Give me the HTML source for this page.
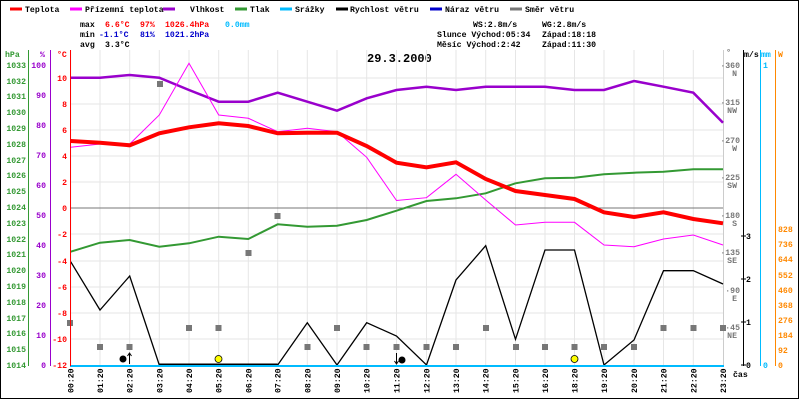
<!DOCTYPE html>
<html><head><meta charset="utf-8"><style>
html,body{margin:0;padding:0;background:#fff;}
svg{display:block;}
text{font-family:"Liberation Mono",monospace;font-size:8.2px;font-weight:bold;}
</style></head><body>
<svg width="800" height="400" viewBox="0 0 800 400" xmlns="http://www.w3.org/2000/svg">
<rect x="0.5" y="0.5" width="798" height="398" fill="#fff" stroke="#000"/>
<g stroke-width="3">
<line x1="10" y1="9" x2="22" y2="9" stroke="#f00"/>
<line x1="70" y1="9" x2="82" y2="9" stroke="#f0f"/>
<line x1="163" y1="9" x2="175" y2="9" stroke="#90c"/>
<line x1="235" y1="9" x2="247" y2="9" stroke="#393"/>
<line x1="280" y1="9" x2="292" y2="9" stroke="#0bf"/>
<line x1="336" y1="9" x2="348" y2="9" stroke="#000"/>
<line x1="430" y1="9" x2="442" y2="9" stroke="#00c"/>
<line x1="510" y1="9" x2="522" y2="9" stroke="#777"/>
</g>
<g fill="#000">
<text x="25" y="12">Teplota</text>
<text x="85" y="12">Přízemní teplota</text>
<text x="190" y="12">Vlhkost</text>
<text x="250" y="12">Tlak</text>
<text x="295" y="12">Srážky</text>
<text x="350" y="12">Rychlost větru</text>
<text x="445" y="12">Náraz větru</text>
<text x="525" y="12">Směr větru</text>
<text x="80" y="27">max</text>
<text x="80" y="37">min</text>
<text x="80" y="47">avg</text>
<text x="105" y="47">3.3°C</text>
<text x="473" y="27">WS:2.8m/s</text>
<text x="542" y="27">WG:2.8m/s</text>
<text x="437" y="37">Slunce Východ:05:34</text>
<text x="542" y="37">Západ:18:18</text>
<text x="437" y="47">Měsíc  Východ:2:42</text>
<text x="542" y="47">Západ:11:30</text>
</g>
<g fill="#f00"><text x="105" y="27">6.6°C</text><text x="140" y="27">97%</text><text x="165" y="27">1026.4hPa</text></g>
<text x="225" y="27" fill="#0bf">0.0mm</text>
<g fill="#00c"><text x="99" y="37">-1.1°C</text><text x="140" y="37">81%</text><text x="165" y="37">1021.2hPa</text></g>
<text x="367" y="62" style="font-size:12px;font-weight:bold">29.3.2000</text>
<g stroke="#e6e6e6" stroke-width="1">
<line x1="70.7" y1="50" x2="70.7" y2="365"/><line x1="100" y1="50" x2="100" y2="365"/><line x1="129.7" y1="50" x2="129.7" y2="365"/><line x1="159.3" y1="50" x2="159.3" y2="365"/><line x1="189" y1="50" x2="189" y2="365"/><line x1="218.7" y1="50" x2="218.7" y2="365"/><line x1="248.3" y1="50" x2="248.3" y2="365"/><line x1="277.7" y1="50" x2="277.7" y2="365"/><line x1="307.3" y1="50" x2="307.3" y2="365"/><line x1="337" y1="50" x2="337" y2="365"/><line x1="366.7" y1="50" x2="366.7" y2="365"/><line x1="396.5" y1="50" x2="396.5" y2="365"/><line x1="426.5" y1="50" x2="426.5" y2="365"/><line x1="456" y1="50" x2="456" y2="365"/><line x1="485.7" y1="50" x2="485.7" y2="365"/><line x1="515.5" y1="50" x2="515.5" y2="365"/><line x1="545" y1="50" x2="545" y2="365"/><line x1="574.5" y1="50" x2="574.5" y2="365"/><line x1="604" y1="50" x2="604" y2="365"/><line x1="634" y1="50" x2="634" y2="365"/><line x1="663.5" y1="50" x2="663.5" y2="365"/><line x1="693.3" y1="50" x2="693.3" y2="365"/>
<line x1="70" y1="78" x2="723" y2="78"/><line x1="70" y1="104" x2="723" y2="104"/><line x1="70" y1="130" x2="723" y2="130"/><line x1="70" y1="156" x2="723" y2="156"/><line x1="70" y1="182" x2="723" y2="182"/><line x1="70" y1="234" x2="723" y2="234"/><line x1="70" y1="261" x2="723" y2="261"/><line x1="70" y1="287" x2="723" y2="287"/><line x1="70" y1="313" x2="723" y2="313"/><line x1="70" y1="339" x2="723" y2="339"/>
</g>
<line x1="723.5" y1="50" x2="723.5" y2="365" stroke="#ccc"/>
<line x1="70" y1="208" x2="723" y2="208" stroke="#777"/>
<polyline fill="none" stroke="#393" stroke-width="2" points="70.7,251.7 100,242.7 129.7,240 159.3,246.7 189,243.3 218.7,236.7 248.3,239 277.7,224.3 307.3,226.7 337,225.7 366.7,220 396.5,210.7 426.5,201 456,198.3 485.7,193.3 515.5,183.3 545,178.3 574.5,177.7 604,174.3 634,172.7 663.5,171.7 693.3,169.3 723,169.3"/>
<polyline fill="none" stroke="#90c" stroke-width="2.5" points="70.7,77.7 100,77.7 129.7,75 159.3,77.7 189,90 218.7,101.7 248.3,101.7 277.7,92.7 307.3,101.7 337,110.7 366.7,98.3 396.5,90 426.5,86.7 456,90 485.7,86.7 515.5,86.7 545,86.7 574.5,90 604,90 634,81 663.5,86.7 693.3,92.7 723,122.7"/>
<polyline fill="none" stroke="#f0f" stroke-width="1" points="70.7,147.3 100,144 129.7,144 159.3,115 189,63.3 218.7,115 248.3,118.3 277.7,131.7 307.3,128.3 337,131.7 366.7,157.3 396.5,200.5 426.5,197.7 456,174.3 485.7,200 515.5,225 545,222.3 574.5,222.3 604,245 634,246.7 663.5,239 693.3,235 723,245"/>
<polyline fill="none" stroke="#f00" stroke-width="4" points="70.7,141 100,142.7 129.7,145.3 159.3,133.3 189,127.3 218.7,123.3 248.3,126 277.7,133.3 307.3,132.7 337,132.7 366.7,146 396.5,162.7 426.5,167.3 456,162.3 485.7,179 515.5,191 545,195 574.5,199 604,212.3 634,217 663.5,212.3 693.3,219 723,223.3"/>
<polyline fill="none" stroke="#000" stroke-width="1.3" points="70.7,261.7 100,310 129.7,276 159.3,365 189,365 218.7,365 248.3,365 277.7,365 307.3,322.7 337,365 366.7,322.7 396.5,336 426.5,365 456,280 485.7,245.7 515.5,339.3 545,250 574.5,250 604,365 634,340 663.5,270.7 693.3,270.7 723,284"/>
<line x1="159.3" y1="364.5" x2="277.7" y2="364.5" stroke="#000" stroke-width="2"/>
<line x1="70" y1="366" x2="724" y2="366" stroke="#0bf" stroke-width="2"/>
<g fill="#777">
<rect x="157" y="81" width="6" height="6"/><rect x="67" y="320" width="6" height="6"/><rect x="97" y="344" width="6" height="6"/><rect x="126.5" y="344" width="6" height="6"/><rect x="186" y="325" width="6" height="6"/><rect x="215.5" y="325" width="6" height="6"/><rect x="245.5" y="250" width="6" height="6"/><rect x="274.5" y="213" width="6" height="6"/><rect x="304.5" y="344" width="6" height="6"/><rect x="334" y="325" width="6" height="6"/><rect x="363.5" y="344" width="6" height="6"/><rect x="393.5" y="344" width="6" height="6"/><rect x="423.5" y="344" width="6" height="6"/><rect x="453" y="344" width="6" height="6"/><rect x="483" y="325" width="6" height="6"/><rect x="513" y="344" width="6" height="6"/><rect x="542" y="344" width="6" height="6"/><rect x="571.5" y="344" width="6" height="6"/><rect x="601" y="344" width="6" height="6"/><rect x="631" y="344" width="6" height="6"/><rect x="660.5" y="325" width="6" height="6"/><rect x="690.5" y="325" width="6" height="6"/><rect x="720" y="325" width="6" height="6"/>
</g>
<circle cx="123" cy="359" r="3.5" fill="#000"/>
<line x1="129.5" y1="364" x2="129.5" y2="353" stroke="#000"/><path d="M127.5,356 L129.5,353 L131.5,356" fill="none" stroke="#000"/>
<circle cx="218.5" cy="359" r="3.5" fill="#ff0" stroke="#000" stroke-width="0.8"/>
<circle cx="574.5" cy="359" r="3.5" fill="#ff0" stroke="#000" stroke-width="0.8"/>
<circle cx="402" cy="360" r="3.5" fill="#000"/>
<line x1="396.5" y1="353" x2="396.5" y2="364" stroke="#000"/><path d="M394.5,361 L396.5,364 L398.5,361" fill="none" stroke="#000"/>
<line x1="28.5" y1="50" x2="28.5" y2="366" stroke="#393"/>
<line x1="50.5" y1="50" x2="50.5" y2="366" stroke="#90c"/>
<line x1="70.5" y1="50" x2="70.5" y2="366" stroke="#f00"/>
<text x="5" y="57" fill="#393">hPa</text><text x="40" y="57" fill="#90c">%</text><text x="57" y="57" fill="#f00">°C</text>
<g fill="#393" text-anchor="end">
<text x="26" y="68">1033</text><text x="26" y="84">1032</text><text x="26" y="99">1031</text><text x="26" y="115">1030</text><text x="26" y="131">1029</text><text x="26" y="147">1028</text><text x="26" y="163">1027</text><text x="26" y="178">1026</text><text x="26" y="194">1025</text><text x="26" y="210">1024</text><text x="26" y="226">1023</text><text x="26" y="242">1022</text><text x="26" y="257">1021</text><text x="26" y="273">1020</text><text x="26" y="289">1019</text><text x="26" y="305">1018</text><text x="26" y="321">1017</text><text x="26" y="336">1016</text><text x="26" y="352">1015</text><text x="26" y="368">1014</text>
</g>
<g fill="#90c" text-anchor="end">
<text x="46" y="68">100</text><text x="46" y="98">90</text><text x="46" y="128">80</text><text x="46" y="158">70</text><text x="46" y="188">60</text><text x="46" y="218">50</text><text x="46" y="248">40</text><text x="46" y="278">30</text><text x="46" y="308">20</text><text x="46" y="338">10</text><text x="46" y="368">0</text>
</g>
<g fill="#f00" text-anchor="end">
<text x="67" y="81">10</text><text x="67" y="107">8</text><text x="67" y="133">6</text><text x="67" y="159">4</text><text x="67" y="185">2</text><text x="67" y="211">0</text><text x="67" y="237">-2</text><text x="67" y="264">-4</text><text x="67" y="290">-6</text><text x="67" y="316">-8</text><text x="67" y="342">-10</text><text x="67" y="368">-12</text>
</g>
<g fill="#777" text-anchor="end">
<text x="740" y="68">·360</text><text x="737" y="76">N</text>
<text x="740" y="105">·315</text><text x="737" y="113">NW</text>
<text x="740" y="143">·270</text><text x="737" y="151">W</text>
<text x="740" y="180">·225</text><text x="737" y="188">SW</text>
<text x="740" y="218">·180</text><text x="737" y="226">S</text>
<text x="740" y="255">·135</text><text x="737" y="263">SE</text>
<text x="740" y="293">·90</text><text x="737" y="301">E</text>
<text x="740" y="330">·45</text><text x="737" y="338">NE</text>
<text x="731" y="55">°</text>
</g>
<line x1="743.5" y1="50" x2="743.5" y2="366" stroke="#000"/>
<line x1="760.5" y1="50" x2="760.5" y2="366" stroke="#0bf"/>
<line x1="775.5" y1="50" x2="775.5" y2="366" stroke="#f80"/>
<text x="744" y="57" fill="#000">m/s</text><text x="761" y="57" fill="#0bf">mm</text><text x="778" y="57" fill="#f80">W</text>
<g fill="#000"><text x="746" y="368">0</text><text x="746" y="325">1</text><text x="746" y="282">2</text><text x="746" y="239">3</text></g>
<g stroke="#000"><line x1="741" y1="365" x2="746" y2="365"/><line x1="741" y1="322" x2="746" y2="322"/><line x1="741" y1="279" x2="746" y2="279"/><line x1="741" y1="236" x2="746" y2="236"/></g>
<g fill="#0bf"><text x="763" y="368">0</text><text x="763" y="68">1</text></g>
<g fill="#f80"><text x="778" y="368">0</text><text x="778" y="353">92</text><text x="778" y="338">184</text><text x="778" y="323">276</text><text x="778" y="308">368</text><text x="778" y="293">460</text><text x="778" y="278">552</text><text x="778" y="262">644</text><text x="778" y="247">736</text><text x="778" y="232">828</text></g>
<text x="733" y="377" fill="#000">čas</text>
<g fill="#000">
<text transform="translate(73.7,393) rotate(-90)">00:20</text><text transform="translate(103,393) rotate(-90)">01:20</text><text transform="translate(132.7,393) rotate(-90)">02:20</text><text transform="translate(162.3,393) rotate(-90)">03:20</text><text transform="translate(192,393) rotate(-90)">04:20</text><text transform="translate(221.7,393) rotate(-90)">05:20</text><text transform="translate(251.3,393) rotate(-90)">06:20</text><text transform="translate(280.7,393) rotate(-90)">07:20</text><text transform="translate(310.3,393) rotate(-90)">08:20</text><text transform="translate(340,393) rotate(-90)">09:20</text><text transform="translate(369.7,393) rotate(-90)">10:20</text><text transform="translate(399.5,393) rotate(-90)">11:20</text><text transform="translate(429.5,393) rotate(-90)">12:20</text><text transform="translate(459,393) rotate(-90)">13:20</text><text transform="translate(488.7,393) rotate(-90)">14:20</text><text transform="translate(518.5,393) rotate(-90)">15:20</text><text transform="translate(548,393) rotate(-90)">16:20</text><text transform="translate(577.5,393) rotate(-90)">18:20</text><text transform="translate(607,393) rotate(-90)">19:20</text><text transform="translate(637,393) rotate(-90)">20:20</text><text transform="translate(666.5,393) rotate(-90)">21:20</text><text transform="translate(696.3,393) rotate(-90)">22:20</text><text transform="translate(726,393) rotate(-90)">23:20</text>
</g>
</svg>
</body></html>
